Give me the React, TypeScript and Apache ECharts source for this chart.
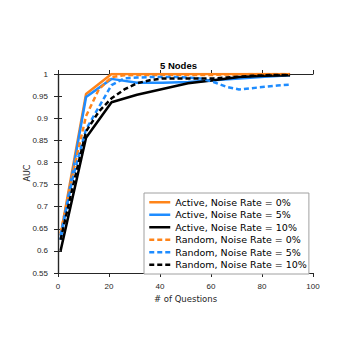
import React, { useEffect, useRef } from "react";
import * as echarts from "echarts";

const title = "5 Nodes";
const yName = "AUC";
const xTicks = [0, 20, 40, 60, 80, 100];
const activeX = [1, 11, 21, 31, 41, 51, 61, 71, 81, 91];
const active0 = [0.635, 0.955, 1.0, 1.0, 1.0, 1.0, 1.0, 1.0, 1.0, 1.0];
const active5 = [0.625, 0.948, 0.989, 0.98, 0.98, 0.982, 0.986, 0.99, 0.994, 0.997];
const active10 = [0.6, 0.856, 0.936, 0.953, 0.966, 0.979, 0.986, 0.993, 0.996, 0.997];

const randomX = [1, 6, 11, 16, 21, 26, 31, 36, 41, 46, 51, 56, 61, 66, 71, 76, 81, 86, 91];
const random0 = [0.64, 0.78, 0.905, 0.965, 0.993, 0.997, 0.998, 0.998, 0.998, 0.998, 0.998, 0.998, 0.998, 0.999, 0.999, 1.0, 1.0, 1.0, 1.0];
const random5 = [0.635, 0.77, 0.875, 0.925, 0.975, 0.99, 0.992, 0.993, 0.993, 0.993, 0.992, 0.99, 0.982, 0.971, 0.965, 0.968, 0.971, 0.974, 0.976];
const random10 = [0.625, 0.75, 0.87, 0.915, 0.945, 0.965, 0.979, 0.986, 0.99, 0.99, 0.99, 0.99, 0.99, 0.992, 0.994, 0.996, 0.997, 0.998, 0.998];

const seriesNames = [
  "Active, Noise Rate = 0%",
  "Active, Noise Rate = 5%",
  "Active, Noise Rate = 10%",
  "Random, Noise Rate = 0%",
  "Random, Noise Rate = 5%",
  "Random, Noise Rate = 10%",
];

const ORANGE = "#ff8419";
const BLUE = "#1e8cff";
const BLACK = "#000000";
const colors = [ORANGE, BLUE, BLACK, ORANGE, BLUE, BLACK];
const dashed = [false, false, false, true, true, true];

export default function App() {
  const ref = useRef<HTMLDivElement>(null);
  useEffect(() => {
    if (!ref.current) return;
    const chart = echarts.init(ref.current, undefined, { renderer: "svg" });
    const axisColor = "#262626";
    const DASH = [5, 3];
    const mk = (i: number, xs: number[], ys: number[]) => ({
      name: seriesNames[i],
      type: "line",
      data: xs.map((x, k) => [x, ys[k]]),
      symbol: "none",
      lineStyle: { color: colors[i], width: 2.5, type: dashed[i] ? DASH : "solid" },
      itemStyle: { color: colors[i] },
      z: dashed[i] ? 3 : 2,
    });
    const numFont = { fontFamily: "Liberation Sans", fontSize: 8, color: axisColor };
    const baseAxis = {
      axisLine: { show: true, lineStyle: { color: axisColor, width: 1.2 } },
      axisTick: { show: true, inside: false, length: 4, lineStyle: { color: axisColor, width: 1 } },
      splitLine: { show: false },
    };
    chart.setOption({
      animation: false,
      backgroundColor: "#ffffff",
      title: {
        text: title,
        left: "center",
        top: 60,
        padding: 0,
        textStyle: { fontFamily: "Liberation Sans", fontSize: 9.5, fontWeight: "bold", color: "#000" },
      },
      graphic: [
        {
          type: "text",
          x: 27,
          y: 173,
          rotation: Math.PI / 2,
          style: {
            text: yName,
            align: "center",
            verticalAlign: "middle",
            fontFamily: "DejaVu Sans",
            fontSize: 8,
            fill: axisColor,
          },
        },
      ],
      grid: { left: 58, right: 44, top: 74, bottom: 84 },
      legend: {
        orient: "vertical",
        left: 144,
        top: 193,
        padding: [3, 2, 3, 4],
        itemWidth: 21,
        itemHeight: 12.5,
        itemGap: 0,
        borderColor: "#a0a0a0",
        borderWidth: 1,
        backgroundColor: "#ffffff",
        textStyle: { fontFamily: "DejaVu Sans", fontSize: 9.5, color: "#000", lineHeight: 12.5 },
        data: seriesNames.map((name, i) => ({
          name,
          itemStyle: { opacity: 0 },
          lineStyle: { color: colors[i], width: 2.5, type: dashed[i] ? DASH : "solid" },
        })),
      },
      xAxis: [
        {
          ...baseAxis,
          type: "value",
          min: xTicks[0],
          max: xTicks[xTicks.length - 1],
          interval: 20,
          position: "bottom",
          name: "# of Questions",
          nameLocation: "middle",
          nameGap: 20,
          nameTextStyle: { fontFamily: "DejaVu Sans", fontSize: 8.5, color: axisColor },
          axisLabel: { ...numFont, margin: 9 },
        },
        {
          ...baseAxis,
          type: "value",
          min: xTicks[0],
          max: xTicks[xTicks.length - 1],
          interval: 20,
          position: "top",
          axisLabel: { show: false },
        },
      ],
      yAxis: [
        {
          ...baseAxis,
          type: "value",
          min: 0.55,
          max: 1,
          interval: 0.05,
          position: "left",
          axisLabel: { ...numFont, margin: 10, formatter: (v: number) => String(parseFloat(v.toFixed(2))) },
        },
        {
          ...baseAxis,
          type: "value",
          min: 0.55,
          max: 1,
          interval: 0.05,
          position: "right",
          axisLabel: { show: false },
        },
      ],
      series: [
        mk(0, activeX, active0),
        mk(1, activeX, active5),
        mk(2, activeX, active10),
        mk(3, randomX, random0),
        mk(4, randomX, random5),
        mk(5, randomX, random10),
      ],
    });
    return () => chart.dispose();
  }, []);
  return <div ref={ref} style={{ position: "fixed", left: 0, top: 0, width: 357, height: 357 }} />;
}
